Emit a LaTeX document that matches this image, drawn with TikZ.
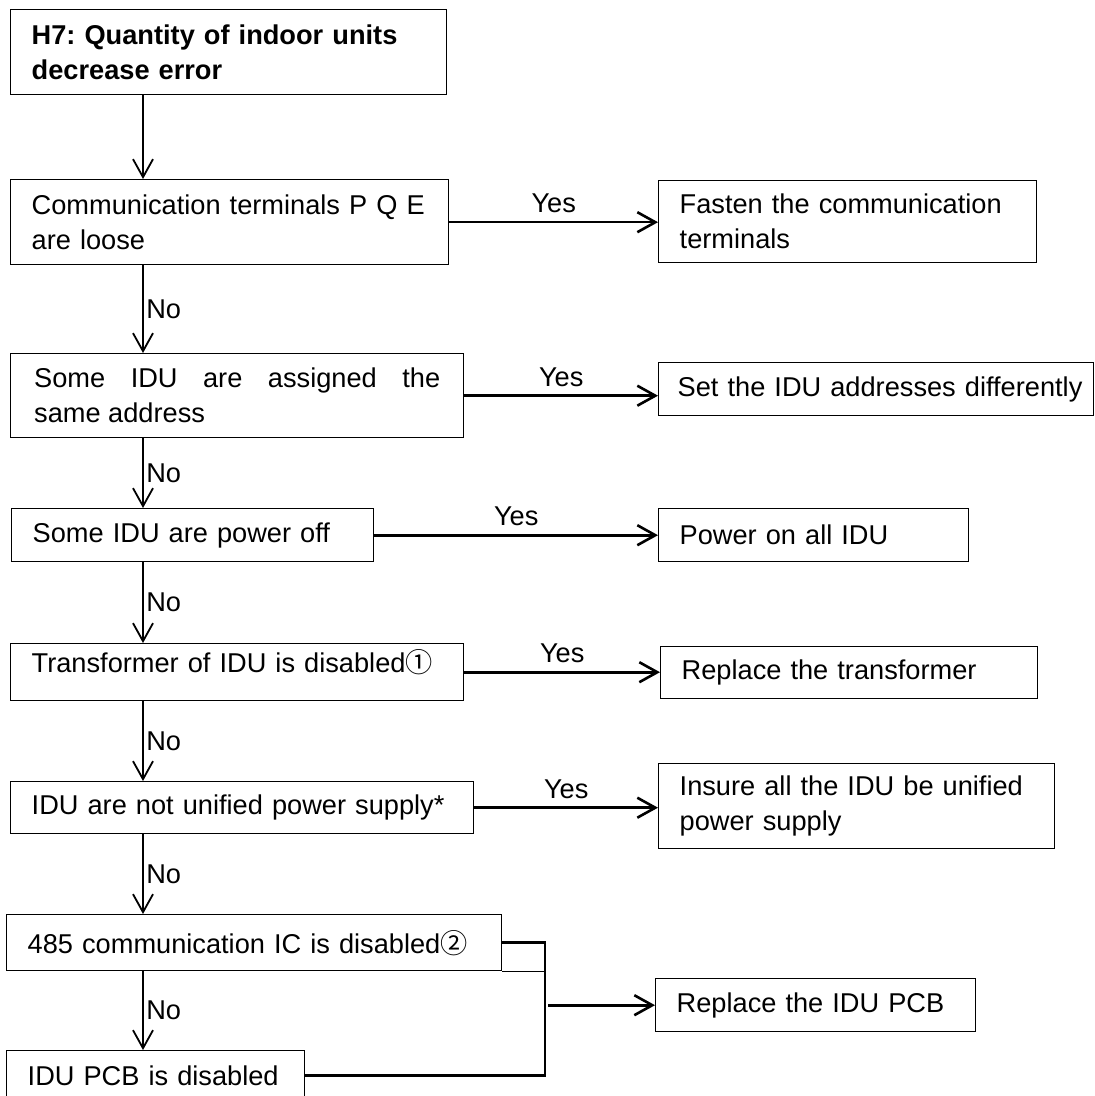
\documentclass[tikz,border=0pt]{standalone}
\usepackage{fontspec}
\setmainfont{Liberation Sans}
\newfontfamily\symfont{Noto Sans CJK SC}
\usetikzlibrary{arrows.meta}
\newcommand\fs{\fontsize{13.6pt}{17.5pt}\selectfont\frenchspacing}
\newcommand\circone{{\symfont ①}}
\newcommand\circtwo{{\symfont ②}}
\begin{document}
\begin{tikzpicture}[x=0.5pt,y=-0.5pt,
  box/.style={draw, line width=0.7pt, anchor=north west, inner xsep=10.5pt, inner ysep=0pt, align=left, font=\fs},
  lab/.style={font=\fs, inner sep=1.2pt},
  yeslab/.style={font=\fs, inner sep=4pt},
  arr/.style={-{Straight Barb[length=9pt,width=10pt]}, line width=0.9pt},
  harr/.style={arr, line width=1.3pt}]
\useasboundingbox (0,0) rectangle (1095,1096);

% left column
\node[box, minimum width=218pt, minimum height=42.5pt, text width=197pt, font=\fs\bfseries] (b1) at (10,9) {H7: Quantity of indoor units\\decrease error};
\node[box, minimum width=219pt, minimum height=42.5pt, text width=198pt] (b2) at (10,179) {Communication terminals P Q E\\are loose};
\node[box, align=justify, minimum width=226.5pt, minimum height=42pt, text width=203pt] (b3) at (10,353) {Some IDU are assigned the\linebreak same address};
\node[box, minimum width=181pt, minimum height=26.5pt, text width=160pt] (b4) at (11,508) {\mbox{Some IDU are power off}};
\node[box, minimum width=226.5pt, minimum height=28.5pt, text width=205.5pt, text height=14.5pt, text depth=14pt] (b5) at (10,643) {\mbox{Transformer of IDU is disabled\circone}};
\node[box, minimum width=231.5pt, minimum height=26pt, text width=210.5pt] (b6) at (10,781) {\mbox{IDU are not unified power supply*}};
\node[box, minimum width=247.5pt, minimum height=28pt, text width=226.5pt] (b7) at (6,914) {\mbox{485 communication IC is disabled\circtwo}};
\node[box, minimum width=149pt, minimum height=25pt, text width=128pt] (b8) at (6,1050) {\mbox{IDU PCB is disabled}};

% right column
\node[box, minimum width=189pt, minimum height=41pt, text width=168pt] (r1) at (658,180) {Fasten the communication\\terminals};
\node[box, inner xsep=9.5pt, minimum width=217.5pt, minimum height=26.5pt, text width=198.5pt] (r2) at (658,362) {\mbox{Set the IDU addresses differently}};
\node[box, minimum width=155pt, minimum height=26.5pt, text width=134pt] (r3) at (658,508) {\mbox{Power on all IDU}};
\node[box, minimum width=188.5pt, minimum height=26pt, text width=167.5pt] (r4) at (660,646) {\mbox{Replace the transformer}};
\node[box, minimum width=198pt, minimum height=42.5pt, text width=177pt] (r5) at (658,763) {Insure all the IDU be unified\\power supply};
\node[box, minimum width=160pt, minimum height=26.5pt, text width=139pt] (r6) at (655,978) {\mbox{Replace the IDU PCB}};

% vertical connectors
\coordinate (c) at (143,0);
\draw[arr] (b1.south -| c) -- (b2.north -| c);
\draw[arr] (b2.south -| c) -- node[lab, right]{No} (b3.north -| c);
\draw[arr] (b3.south -| c) -- node[lab, right]{No} (b4.north -| c);
\draw[arr] (b4.south -| c) -- node[lab, right]{No} (b5.north -| c);
\draw[arr] (b5.south -| c) -- node[lab, right]{No} (b6.north -| c);
\draw[arr] (b6.south -| c) -- node[lab, right]{No} (b7.north -| c);
\draw[arr] (b7.south -| c) -- node[lab, right]{No} (b8.north -| c);

% yes connectors
\draw[harr] (b2.east) -- node[yeslab, above]{Yes} (r1.west |- b2.east);
\draw[harr] (b3.east) -- node[yeslab, above]{Yes} (r2.west |- b3.east);
\draw[harr] (b4.east) -- node[yeslab, above]{Yes} (r3.west |- b4.east);
\draw[harr] (b5.east) -- node[yeslab, above]{Yes} (r4.west |- b5.east);
\draw[harr] (b6.east) -- node[yeslab, above]{Yes} (r5.west |- b6.east);

% bracket to PCB replacement
\coordinate (j) at (545,0);
\coordinate (j2) at (548,0);
\draw[line width=1.3pt] (b7.east) -- (b7.east -| j) -- (b8.east -| j) -- (b8.east);
\draw[line width=0.7pt] (b7.south east) -- (b7.south east -| j);
\draw[harr] (r6.west -| j2) -- (r6.west);
\end{tikzpicture}
\end{document}
